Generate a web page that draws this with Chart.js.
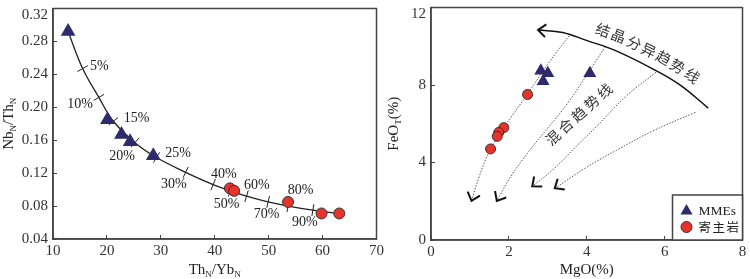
<!DOCTYPE html>
<html>
<head>
<meta charset="utf-8">
<script src="https://cdn.jsdelivr.net/npm/chart.js@4.4.0/dist/chart.umd.min.js"></script>
<style>
  html, body { margin: 0; padding: 0; background: #fff; }
  #wrap { position: relative; width: 750px; height: 279px; }
  .panel { position: absolute; top: 0; height: 279px; }
  #left { left: 0; width: 385px; }
  #right { left: 385px; width: 365px; }
</style>
</head>
<body>
<div id="wrap">
  <div class="panel" id="left"><canvas id="c1"></canvas></div>
  <div class="panel" id="right"><canvas id="c2"></canvas></div>
</div>
<script>
// ---- left panel: NbN/ThN vs ThN/YbN ----
const mmeThYb = [12.8, 20.1, 22.7, 24.3, 28.6];
const mmeNbTh = [0.292, 0.185, 0.167, 0.158, 0.141];
const hostThYb = [42.8, 43.6, 53.6, 59.8, 63.1];
const hostNbTh = [0.1015, 0.0985, 0.085, 0.071, 0.071];

// mixing curve
const curveThYb = [12.8, 15.5, 18.5, 21.2, 25.2, 29.2, 34.6, 39.7, 42.9, 45.9, 49.9, 53.6, 58.2, 63.1];
const curveNbTh = [0.292, 0.247, 0.212, 0.183, 0.157, 0.139, 0.121, 0.106, 0.0985, 0.092, 0.085, 0.080, 0.075, 0.071];

// percent marks on the curve and where their labels sit
const pctLabels = ['5%', '10%', '15%', '20%', '25%', '30%', '40%', '50%', '60%', '70%', '80%', '90%'];
const pctThYb = [15.5, 18.5, 21.2, 25.2, 29.2, 34.6, 39.7, 42.9, 45.9, 49.9, 53.6, 58.2];
const pctNbTh = [0.247, 0.212, 0.183, 0.157, 0.139, 0.121, 0.106, 0.0985, 0.092, 0.085, 0.080, 0.075];
const pctTextThYb = [18.6, 15.0, 25.5, 22.8, 33.2, 32.4, 41.7, 42.2, 47.8, 49.6, 55.9, 56.7];
const pctTextNbTh = [0.250, 0.204, 0.186, 0.140, 0.144, 0.106, 0.118, 0.0827, 0.1055, 0.0694, 0.0997, 0.0604];

// ---- right panel: FeOT vs MgO ----
const mmeMgO = [2.82, 3.00, 2.88, 4.08];
const mmeFeO = [8.74, 8.61, 8.20, 8.61];
const hostMgO = [2.48, 1.87, 1.74, 1.70, 1.53];
const hostFeO = [7.51, 5.80, 5.55, 5.35, 4.70];

// crystallisation trend (drawn right to left, arrow at the end)
const crystMgO = [7.12, 6.41, 5.78, 4.77, 4.01, 3.38, 2.75];
const crystFeO = [6.81, 7.98, 8.74, 9.75, 10.29, 10.71, 10.84];

// mixing trends (top to bottom, arrow at the end)
const mix1MgO = [3.55, 3.00, 2.47, 1.87, 1.49, 1.24, 1.04];
const mix1FeO = [10.55, 9.08, 7.51, 5.80, 4.54, 3.28, 2.02];
const mix2MgO = [4.48, 4.02, 3.51, 3.01, 2.50, 2.05, 1.69];
const mix2FeO = [10.0, 8.57, 7.06, 5.80, 4.54, 3.28, 2.02];
const mix3MgO = [5.78, 5.03, 4.27, 3.76, 3.13, 2.60];
const mix3FeO = [8.66, 7.46, 5.90, 4.89, 3.63, 2.77];
const mix4MgO = [6.79, 5.70, 4.77, 4.02, 3.18];
const mix4FeO = [6.59, 5.63, 4.64, 3.78, 2.67];

const crystLabel = '结晶分异趋势线';
const mixLabel = '混合趋势线';
const mixLabelAt = [3.13, 5.29];
const legendNames = ['MMEs', '寄主岩'];

const SERIF = "'Liberation Serif', 'Times New Roman', serif";
const CJK = "'Noto Sans CJK SC', sans-serif";
const INK = '#222';
const TRI = '#2e2a6b';
const RED = '#e8322b';

Chart.defaults.font.family = SERIF;
Chart.defaults.color = '#333';

function pts(xs, ys) {
  return xs.map((v, i) => ({x: v, y: ys[i]}));
}

function drawFrame(ctx, a) {
  ctx.save();
  ctx.strokeStyle = '#444';
  ctx.lineWidth = 1.5;
  ctx.strokeRect(a.left, a.top, a.right - a.left, a.bottom - a.top);
  ctx.restore();
}

// text with subscript parts, centred on x,y
function subText(ctx, parts, x, y, size, vertical) {
  const sub = Math.round(size * 0.62);
  ctx.save();
  ctx.translate(x, y);
  if (vertical) ctx.rotate(-Math.PI / 2);
  let total = 0;
  parts.forEach(p => {
    ctx.font = (p[1] ? sub : size) + 'px ' + SERIF;
    total += ctx.measureText(p[0]).width;
  });
  let cx = -total / 2;
  ctx.fillStyle = INK;
  ctx.textBaseline = 'alphabetic';
  parts.forEach(p => {
    ctx.font = (p[1] ? sub : size) + 'px ' + SERIF;
    ctx.fillText(p[0], cx, size * 0.33 + (p[1] ? size * 0.22 : 0));
    cx += ctx.measureText(p[0]).width;
  });
  ctx.restore();
}

function chevron(ctx, tip, from, len) {
  const ang = Math.atan2(tip.y - from.y, tip.x - from.x) + Math.PI;
  ctx.beginPath();
  ctx.moveTo(tip.x + len * Math.cos(ang - 0.7), tip.y + len * Math.sin(ang - 0.7));
  ctx.lineTo(tip.x, tip.y);
  ctx.lineTo(tip.x + len * Math.cos(ang + 0.7), tip.y + len * Math.sin(ang + 0.7));
  ctx.stroke();
}

function pointAt(line, s) {
  let acc = 0;
  for (let i = 1; i < line.length; i++) {
    const dx = line[i].x - line[i - 1].x, dy = line[i].y - line[i - 1].y;
    const L = Math.hypot(dx, dy);
    if (acc + L >= s || i === line.length - 1) {
      const t = (s - acc) / L;
      return {x: line[i - 1].x + dx * t, y: line[i - 1].y + dy * t};
    }
    acc += L;
  }
}

function textAlong(ctx, line, text, s0, step, off) {
  [...text].forEach((ch, i) => {
    const s = s0 + i * step;
    const p = pointAt(line, s), p1 = pointAt(line, s - 8), p2 = pointAt(line, s + 8);
    const ang = Math.atan2(p2.y - p1.y, p2.x - p1.x);
    ctx.save();
    ctx.translate(p.x + Math.sin(ang) * off, p.y - Math.cos(ang) * off);
    ctx.rotate(ang);
    ctx.fillText(ch, 0, 0);
    ctx.restore();
  });
}

function tickRotation(ctx) {
  const i = ctx.dataIndex;
  if (i === undefined) return 0;
  const xs = ctx.chart.scales.x, ys = ctx.chart.scales.y;
  const a = Math.max(0, i - 1), b = Math.min(pctThYb.length - 1, i + 1);
  const dx = xs.getPixelForValue(pctThYb[b]) - xs.getPixelForValue(pctThYb[a]);
  const dy = ys.getPixelForValue(pctNbTh[b]) - ys.getPixelForValue(pctNbTh[a]);
  return Math.atan2(dy, dx) * 180 / Math.PI + 90;
}

function axis(min, max, step, fmt, size) {
  return {
    type: 'linear', min: min, max: max,
    ticks: {
      stepSize: step, padding: 9, color: '#333', autoSkip: false,
      font: {size: 15, lineHeight: 0.9},
      callback: v => Math.abs(v - max) < 1e-9 && size.top ? ['', fmt(v)] : fmt(v)
    },
    grid: {drawOnChartArea: false, tickLength: -4, color: '#444', lineWidth: 1},
    border: {color: '#444', width: 1.5},
    afterFit: s => {
      if (size.w) s.width = size.w;
      if (size.h) s.height = size.h;
      s.paddingTop = 0; s.paddingBottom = 0; s.paddingLeft = 0; s.paddingRight = 0;
    }
  };
}

const leftDecor = {
  id: 'leftDecor',
  afterDraw(chart) {
    const {ctx, chartArea: a, scales: {x, y}} = chart;
    drawFrame(ctx, a);
    ctx.save();
    ctx.font = '14px ' + SERIF;
    ctx.fillStyle = INK;
    ctx.textAlign = 'center';
    ctx.textBaseline = 'middle';
    pctLabels.forEach((t, i) => {
      ctx.fillText(t, x.getPixelForValue(pctTextThYb[i]), y.getPixelForValue(pctTextNbTh[i]));
    });
    ctx.restore();
    subText(ctx, [['Th', 0], ['N', 1], ['/Yb', 0], ['N', 1]], (a.left + a.right) / 2, 269, 15, false);
    subText(ctx, [['Nb', 0], ['N', 1], ['/Th', 0], ['N', 1]], 8, (a.top + a.bottom) / 2, 15, true);
  }
};

const rightDecor = {
  id: 'rightDecor',
  afterDraw(chart) {
    const {ctx, chartArea: a, scales: {x, y}} = chart;
    drawFrame(ctx, a);

    // arrow heads
    ctx.save();
    ctx.strokeStyle = '#111';
    ctx.lineWidth = 2;
    chart.data.datasets.forEach((ds, k) => {
      if (!ds.arrow) return;
      const d = chart.getDatasetMeta(k).data;
      chevron(ctx, d[d.length - 1], d[d.length - 2], ds.arrow);
    });
    ctx.restore();

    // trend labels
    ctx.save();
    ctx.font = '14.5px ' + CJK;
    ctx.fillStyle = '#333';
    ctx.textAlign = 'center';
    ctx.textBaseline = 'middle';
    const ci = chart.data.datasets.findIndex(d => d.label === 'cryst');
    const line = chart.getDatasetMeta(ci).data.map(e => ({x: e.x, y: e.y})).reverse();
    textAlong(ctx, line, crystLabel, 62, 16, 15);
    const mx = x.getPixelForValue(mixLabelAt[0]), my = y.getPixelForValue(mixLabelAt[1]);
    const ang = -42 * Math.PI / 180;
    [...mixLabel].forEach((ch, i) => {
      ctx.save();
      ctx.translate(mx + Math.cos(ang) * 17.4 * i, my + Math.sin(ang) * 17.4 * i);
      ctx.rotate(ang);
      ctx.fillText(ch, 0, 0);
      ctx.restore();
    });
    ctx.restore();

    // legend box
    const bw = 70, bh = 45, bx = a.right - bw, by = a.bottom - bh;
    ctx.save();
    ctx.fillStyle = '#fff';
    ctx.fillRect(bx, by, bw, bh);
    ctx.strokeStyle = '#444';
    ctx.lineWidth = 1.5;
    ctx.strokeRect(bx, by, bw, bh);
    const r1 = 7;
    const tx = bx + 14, ty = by + 16;
    ctx.fillStyle = TRI;
    ctx.beginPath();
    for (let k = 0; k < 3; k++) {
      const t = k * 2 * Math.PI / 3;
      ctx.lineTo(tx + Math.sin(t) * r1, ty - Math.cos(t) * r1);
    }
    ctx.closePath();
    ctx.fill();
    ctx.beginPath();
    ctx.arc(bx + 14, by + 32, 5.5, 0, Math.PI * 2);
    ctx.fillStyle = RED;
    ctx.fill();
    ctx.strokeStyle = '#333';
    ctx.lineWidth = 1;
    ctx.stroke();
    ctx.fillStyle = INK;
    ctx.textBaseline = 'middle';
    ctx.font = '13.5px ' + SERIF;
    ctx.fillText(legendNames[0], bx + 26, by + 16);
    ctx.font = '12.5px ' + CJK;
    ctx.letterSpacing = '1.5px';
    ctx.fillText(legendNames[1], bx + 26, by + 32);
    ctx.restore();

    subText(ctx, [['MgO(%)', 0]], (a.left + a.right) / 2, 269, 15, false);
    subText(ctx, [['FeO', 0], ['T', 1], ['(%)', 0]], 8, (a.top + a.bottom) / 2, 15, true);
  }
};

const common = {
  animation: false,
  responsive: true,
  maintainAspectRatio: false,
  events: [],
  plugins: {legend: {display: false}, tooltip: {enabled: false}}
};

new Chart(document.getElementById('c1'), {
  type: 'scatter',
  data: {
    datasets: [
      {
        label: 'MMEs', data: pts(mmeThYb, mmeNbTh), order: 1,
        pointStyle: 'triangle', radius: 8.5, backgroundColor: TRI, borderColor: TRI, borderWidth: 0
      },
      {
        label: '寄主岩', data: pts(hostThYb, hostNbTh), order: 1,
        pointStyle: 'circle', radius: 5.5, backgroundColor: RED, borderColor: '#333', borderWidth: 1
      },
      {
        label: 'ticks', data: pts(pctThYb, pctNbTh), order: 2,
        pointStyle: 'line', radius: 6, borderColor: INK, borderWidth: 1, rotation: tickRotation
      },
      {
        label: 'curve', data: pts(curveThYb, curveNbTh), order: 3,
        showLine: true, tension: 0.4, borderColor: INK, borderWidth: 1.3, pointRadius: 0
      }
    ]
  },
  options: Object.assign({}, common, {
    layout: {padding: {top: 1, right: 8, left: 0, bottom: 0}},
    scales: {
      x: axis(10, 70, 10, v => String(v), {h: 40}),
      y: axis(0.04, 0.32, 0.04, v => v.toFixed(2), {w: 53, top: true})
    }
  }),
  plugins: [leftDecor]
});

const dotted = {showLine: true, tension: 0.4, borderColor: '#555', borderWidth: 1, borderDash: [1.5, 1.5], pointRadius: 0, order: 3, arrow: 10};

new Chart(document.getElementById('c2'), {
  type: 'scatter',
  data: {
    datasets: [
      {
        label: 'MMEs', data: pts(mmeMgO, mmeFeO), order: 1,
        pointStyle: 'triangle', radius: 7.5, backgroundColor: TRI, borderColor: TRI, borderWidth: 0
      },
      {
        label: '寄主岩', data: pts(hostMgO, hostFeO), order: 1,
        pointStyle: 'circle', radius: 5, backgroundColor: RED, borderColor: '#333', borderWidth: 1
      },
      {
        label: 'cryst', data: pts(crystMgO, crystFeO), order: 2, arrow: 10,
        showLine: true, tension: 0.4, borderColor: '#111', borderWidth: 1.5, pointRadius: 0
      },
      Object.assign({label: 'mix1', data: pts(mix1MgO, mix1FeO)}, dotted),
      Object.assign({label: 'mix2', data: pts(mix2MgO, mix2FeO)}, dotted),
      Object.assign({label: 'mix3', data: pts(mix3MgO, mix3FeO)}, dotted),
      Object.assign({label: 'mix4', data: pts(mix4MgO, mix4FeO)}, dotted)
    ]
  },
  options: Object.assign({}, common, {
    layout: {padding: {top: 2, right: 2, left: 0, bottom: 0}},
    scales: {
      x: axis(0, 8, 2, v => String(v), {h: 39}),
      y: axis(0, 12, 4, v => String(v), {w: 46, top: true})
    }
  }),
  plugins: [rightDecor]
});
</script>
</body>
</html>
